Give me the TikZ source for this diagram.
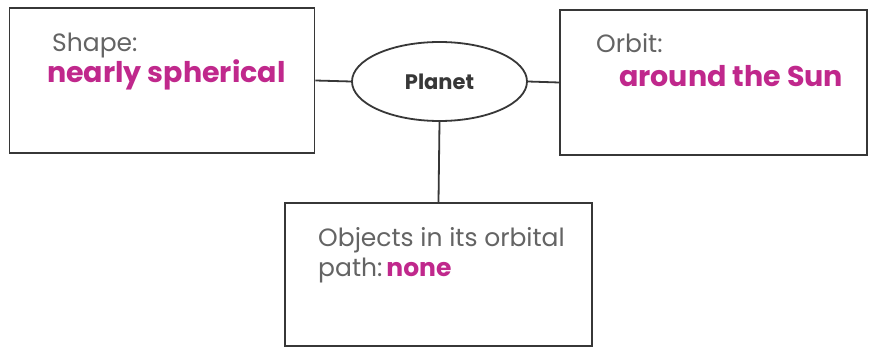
\documentclass[tikz,border=0pt]{standalone}
\usepackage{fontspec}
\setmainfont{Poppins}
\usetikzlibrary{shapes.geometric}

\definecolor{framegray}{RGB}{55,55,55}
\definecolor{labelgray}{RGB}{100,100,100}
\definecolor{answerpink}{RGB}{192,40,140}

\tikzset{
  infobox/.style={draw=framegray,line width=1.8pt,inner sep=0pt},
  planetbubble/.style={ellipse,draw=framegray,line width=1.8pt,inner sep=0pt,text=framegray,
    minimum width=175pt,minimum height=79pt,font=\bfseries\fontsize{21}{25}\selectfont},
  labeltext/.style={anchor=base west,inner sep=0pt,text=labelgray,
    font=\fontsize{25}{30}\selectfont},
  answertext/.style={anchor=base west,inner sep=0pt,text=answerpink,
    font=\bfseries\fontsize{28.5}{33}\selectfont},
  link/.style={draw=framegray,line width=1.8pt}
}

\begin{document}
\begin{tikzpicture}[x=1pt,y=-1pt]
  % cadru
  \useasboundingbox (0,0) rectangle (873,347);
  \fill[white] (0,0) rectangle (873,347);

  % casete
  \node[infobox,minimum width=305pt,minimum height=145pt] (shape) at (162,80.5) {};
  \node[infobox,minimum width=307pt,minimum height=145pt] (orbit) at (713.5,82.5) {};
  \node[infobox,minimum width=307pt,minimum height=143pt] (objects) at (438.5,274.5) {};

  % elipsa centrala
  \node[planetbubble] (planet) at (439.5,81.5) {Planet};

  % texte
  \node[labeltext] (shapelbl) at (52,52) {Shape:};
  \node[answertext] (shapeans) at (47,83) {nearly spherical};
  \node[labeltext] (orbitlbl) at (596,53) {Orbit:};
  \node[answertext] (orbitans) at (619,87) {around the Sun};
  \node[labeltext] (objectslbl) at (318,247) {Objects in its orbital};
  \node[labeltext] (pathlbl) at (318,277) {path:\hspace{4pt}\textcolor{answerpink}{\bfseries none}};

  % legaturi
  \draw[link] (shape.east) -- (planet.west);
  \draw[link] (planet.east) -- (orbit.west);
  \draw[link] (planet.south) -- (objects.north);
\end{tikzpicture}
\end{document}
